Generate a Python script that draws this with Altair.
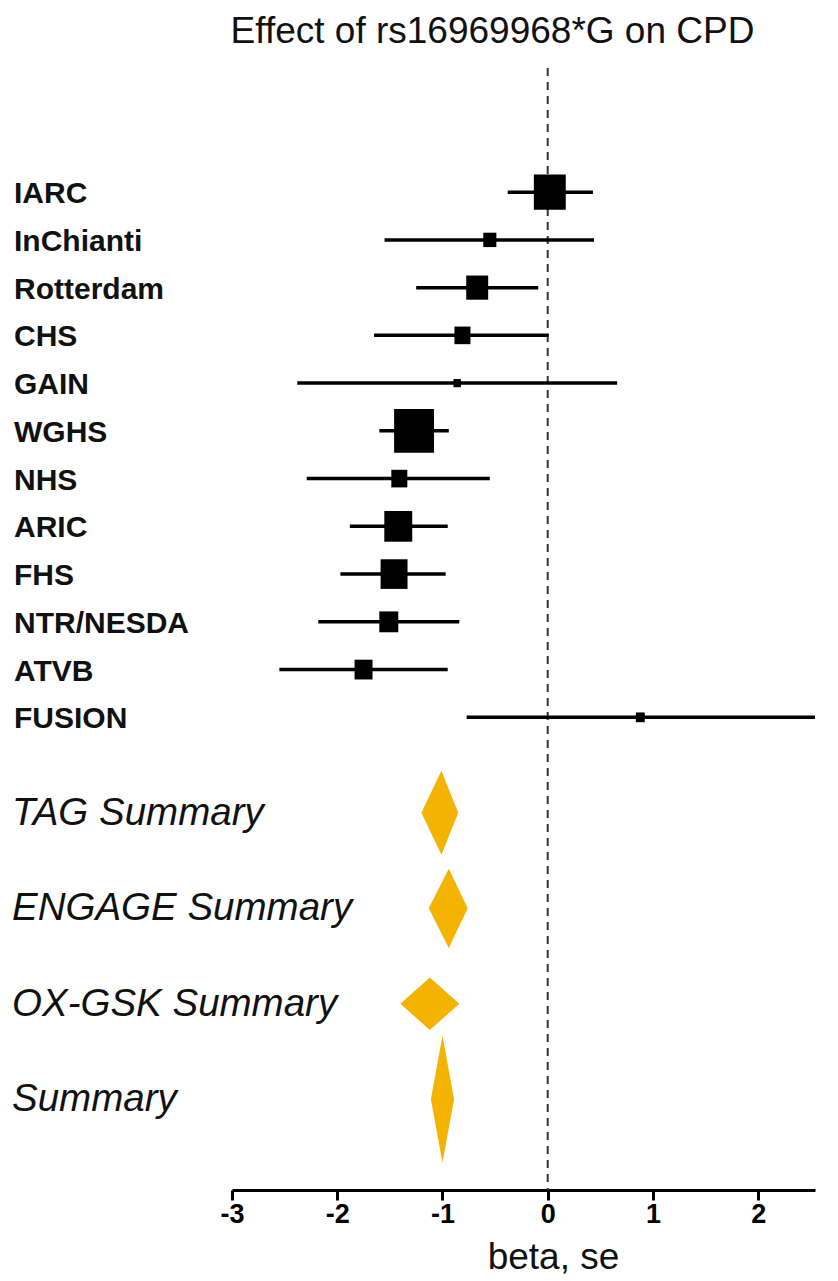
import altair as alt
import pandas as pd

# ---- data ----
studies = ["IARC", "InChianti", "Rotterdam", "CHS", "GAIN", "WGHS", "NHS",
           "ARIC", "FHS", "NTR/NESDA", "ATVB", "FUSION"]
beta = [0.02, -0.55, -0.67, -0.81, -0.86, -1.27, -1.41, -1.42, -1.46, -1.51, -1.75, 0.88]
ci_low = [-0.38, -1.55, -1.25, -1.65, -2.38, -1.60, -2.29, -1.88, -1.97, -2.18, -2.55, -0.77]
ci_high = [0.43, 0.44, -0.09, 0.01, 0.66, -0.94, -0.55, -0.95, -0.97, -0.84, -0.95, 2.54]
weight = [16.7, 2.8, 7.9, 4.2, 0.9, 26.1, 4.2, 12.8, 11.9, 5.9, 5.3, 1.3]

summaries = ["TAG Summary", "ENGAGE Summary", "OX-GSK Summary", "Summary"]
sum_beta = [-1.01, -0.94, -1.12, -1.00]
sum_low = [-1.20, -1.13, -1.40, -1.11]
sum_high = [-0.85, -0.76, -0.84, -0.89]
sum_halfheight = [0.88, 0.83, 0.55, 1.33]   # diamond half-height in row units

x_ticks = [-3, -2, -1, 0, 1, 2]

# ---- tables ----
study_rows = list(range(1, len(studies) + 1))
sum_rows = [len(studies) + 2 + 2 * j for j in range(len(summaries))]

df = pd.DataFrame({"study": studies, "beta": beta, "lo": ci_low, "hi": ci_high,
                   "w": weight, "row": study_rows})
sdf = pd.DataFrame({"label": summaries, "row": sum_rows})

dia = []
for name, b, l, h, hh, r in zip(summaries, sum_beta, sum_low, sum_high, sum_halfheight, sum_rows):
    dia.append({"name": name, "bx": l, "top": r, "bot": r})
    dia.append({"name": name, "bx": b, "top": r - hh, "bot": r + hh})
    dia.append({"name": name, "bx": h, "top": r, "bot": r})
ddf = pd.DataFrame(dia)

FONT = "Liberation Sans"
xscale = alt.Scale(domain=[-3, 2.54], nice=False, zero=False)
yscale = alt.Scale(domain=[-1.6, 21.9], reverse=True, nice=False, zero=False)

xaxis = alt.Axis(values=x_ticks, title="beta, se", grid=False, domainColor="black",
                 domainWidth=3, tickColor="black", tickWidth=3, tickSize=10,
                 labelFont=FONT, labelFontSize=27, labelFontWeight="bold",
                 labelColor="black", labelPadding=1, labelFlush=False,
                 labelExpr="datum.value",
                 titleFont=FONT, titleFontSize=37, titleFontWeight="normal",
                 titleColor="#111", titleX=321, titleY=78, titleBaseline="alphabetic")

base = alt.Chart(df)

zero_line = alt.Chart(pd.DataFrame({"x": [0]})).mark_rule(
    strokeDash=[8, 6], strokeWidth=2, color="#333"
).encode(x=alt.X("x:Q", scale=xscale, axis=xaxis))

ci = base.mark_rule(strokeWidth=3.5, color="black").encode(
    x=alt.X("lo:Q", scale=xscale, axis=xaxis),
    x2="hi:Q",
    y=alt.Y("row:Q", scale=yscale, axis=None),
)

boxes = base.mark_point(
    shape="M-1,-1.1L1,-1.1L1,1.1L-1,1.1Z", filled=True, color="black", opacity=1
).encode(
    x=alt.X("beta:Q", scale=xscale, axis=xaxis),
    y=alt.Y("row:Q", scale=yscale, axis=None),
    size=alt.Size("w:Q", scale=alt.Scale(domain=[0, 100], range=[0, 6100], zero=True),
                  legend=None),
)

study_labels = base.mark_text(
    align="left", baseline="middle", font=FONT, fontSize=30, fontWeight="bold",
    color="#111", dy=2
).encode(x=alt.value(-218), y=alt.Y("row:Q", scale=yscale, axis=None), text="study:N")

diamonds = alt.Chart(ddf).mark_area(color="#F5B301", opacity=1, interpolate="linear").encode(
    x=alt.X("bx:Q", scale=xscale, axis=xaxis),
    y=alt.Y("top:Q", scale=yscale, axis=None, stack=None),
    y2="bot:Q",
    detail="name:N",
)

sum_labels = alt.Chart(sdf).mark_text(
    align="left", baseline="middle", font=FONT, fontSize=38.5, fontStyle="italic",
    fontWeight="normal", color="#111", dy=0
).encode(x=alt.value(-220), y=alt.Y("row:Q", scale=yscale, axis=None), text="label:N")

chart = alt.layer(zero_line, ci, boxes, diamonds, study_labels, sum_labels).properties(
    width=583, height=1122,
    title=alt.TitleParams("Effect of rs16969968*G on CPD", font=FONT, fontSize=37,
                          fontWeight="normal", color="#111", anchor="middle",
                          dx=-31, offset=16),
    autosize=alt.AutoSizeParams(type="none"),
    padding={"left": 224, "top": 60, "right": 15, "bottom": 90},
).configure(background="white").configure_view(stroke=None)

chart.save("out.html", embed_options={"renderer": "svg", "actions": False})
